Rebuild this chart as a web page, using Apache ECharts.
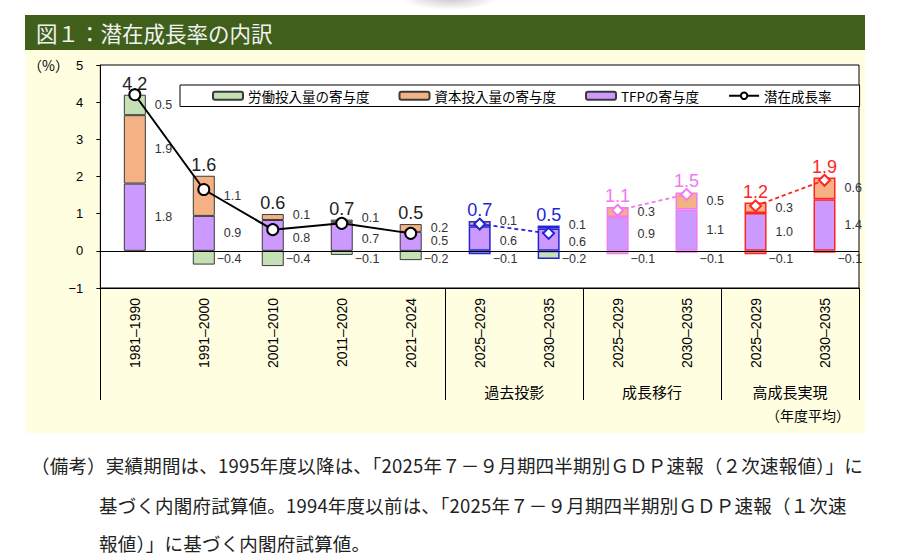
<!DOCTYPE html>
<html>
<head>
<meta charset="utf-8">
<script src="https://cdn.jsdelivr.net/npm/echarts@6/dist/echarts.min.js"></script>
<style>
  body { margin: 0; width: 906px; height: 558px; background: #fff; position: relative; overflow: hidden;
         font-family: 'Noto Sans CJK JP', sans-serif; }
  #shade { position: absolute; left: 400px; top: -14px; width: 100px; height: 24px;
           background: radial-gradient(ellipse at center, rgba(0,0,0,0.22) 0%, rgba(0,0,0,0) 70%); }
  #title { position: absolute; left: 25px; top: 15px; width: 840px; height: 35px; background: #3f5f1b;
           color: #f2f2f2; font-size: 21.5px; line-height: 35px; padding-left: 11px; box-sizing: border-box; }
  #chart { position: absolute; left: 25px; top: 50px; width: 840px; height: 383px; background: #fffee0; }
  .note { position: absolute; font-size: 18.5px; letter-spacing: 0.2px; color: #222; white-space: nowrap; }
</style>
</head>
<body>
<div id="shade"></div>
<div id="title">図１：潜在成長率の内訳</div>
<div id="chart"></div>
<div class="note" style="left:31px; top:452px;">（備考）実績期間は、1995年度以降は、「2025年７－９月期四半期別ＧＤＰ速報（２次速報値）」に</div>
<div class="note" style="left:99px; top:492px;">基づく内閣府試算値。1994年度以前は、「2025年７－９月期四半期別ＧＤＰ速報（１次速</div>
<div class="note" style="left:99px; top:530px;">報値）」に基づく内閣府試算値。</div>
<script>
// 年度区分
const categories = ['1981–1990', '1991–2000', '2001–2010', '2011–2020', '2021–2024',
                    '2025–2029', '2030–2035', '2025–2029', '2030–2035', '2025–2029', '2030–2035'];
// シナリオ (-1 = 実績)
const groupNames = ['過去投影', '成長移行', '高成長実現'];
const groupIndex = [-1, -1, -1, -1, -1, 0, 0, 1, 1, 2, 2];

// 寄与度（棒の高さ）
const tfp     = [1.81, 0.94, 0.83, 0.77, 0.51, 0.66, 0.60, 0.91, 1.11, 1.02, 1.39];
const capital = [1.84, 1.08, 0.16, 0.07, 0.21, 0.14, 0.08, 0.27, 0.46, 0.28, 0.58];
const labour  = [0.55, -0.37, -0.41, -0.11, -0.25, -0.09, -0.22, -0.09, -0.05, -0.09, -0.05];
// 潜在成長率
const growth  = [4.2, 1.65, 0.57, 0.74, 0.47, 0.72, 0.47, 1.09, 1.52, 1.21, 1.90];

// 表示ラベル
const tfpLabels     = ['1.8', '0.9', '0.8', '0.7', '0.5', '0.6', '0.6', '0.9', '1.1', '1.0', '1.4'];
const capitalLabels = ['1.9', '1.1', '0.1', '0.1', '0.2', '0.1', '0.1', '0.3', '0.5', '0.3', '0.6'];
const labourLabels  = ['0.5', '−0.4', '−0.4', '−0.1', '−0.2', '−0.1', '−0.2', '−0.1', '−0.1', '−0.1', '−0.1'];
const growthLabels  = ['4.2', '1.6', '0.6', '0.7', '0.5', '0.7', '0.5', '1.1', '1.5', '1.2', '1.9'];

const groupColors = ['#2424d4', '#f07af0', '#ff2424'];
const NUM_FONT = "'Liberation Sans Narrow', 'Liberation Sans', sans-serif";
const JP_FONT = "'Noto Sans CJK JP', sans-serif";

const GRID = {left: 72, right: 6, top: 15, bottom: 145};
const Y_MIN = -1, Y_MAX = 5;
const ppu = (383 - GRID.top - GRID.bottom) / (Y_MAX - Y_MIN);

const chart = echarts.init(document.getElementById('chart'), null, {renderer: 'svg'});

// 各シナリオの境界と中心
const boundaries = [0];
for (let i = 1; i < groupIndex.length; i++) {
    if (groupIndex[i] !== groupIndex[i - 1]) boundaries.push(i);
}
const groupCenters = {};
groupNames.forEach(function (name, g) {
    const idx = groupIndex.map((v, i) => v === g ? i : -1).filter(i => i >= 0);
    groupCenters[(idx[0] + idx[idx.length - 1] + 1) / 2] = name;
});

// 小さい資本寄与のときはラベル同士を少し離す
function labelNudge(kind, v, i) {
    if (kind === 'lab' && v < 0) return [-7, Math.max(0, 0.22 + v / 2) * ppu];
    if (capital[i] < 0.2 && kind === 'cap') return [0, -2.5];
    if (capital[i] < 0.2 && kind === 'tfp') return [0, 2.5];
    return null;
}

function segData(kind, values) {
    return values.map(function (v, i) {
        const g = groupIndex[i];
        const item = {
            value: v,
            itemStyle: {
                borderColor: g < 0 ? '#3a3a3a' : groupColors[g],
                borderWidth: g < 0 ? 1 : 1.5
            }
        };
        const off = labelNudge(kind, v, i);
        if (off) item.label = {offset: off};
        return item;
    });
}

function segSeries(kind, name, values, labels, color) {
    return {
        name: name,
        type: 'bar',
        stack: 'contrib',
        barWidth: 22,
        barGap: '-100%',
        itemStyle: {color: color, borderColor: '#3a3a3a', borderWidth: 1},
        label: {
            show: true,
            position: 'right',
            distance: 9,
            fontSize: 12.5,
            fontFamily: NUM_FONT,
            color: '#333',
            formatter: p => labels[p.dataIndex]
        },
        data: segData(kind, values)
    };
}

const totals = tfp.map((v, i) => v + capital[i] + Math.max(labour[i], 0));

function lineData(g) {
    return growth.map((v, i) => groupIndex[i] === g ? v : null);
}

const series = [
    segSeries('tfp', 'TFPの寄与度', tfp, tfpLabels, '#cc99ff'),
    segSeries('cap', '資本投入量の寄与度', capital, capitalLabels, '#f4b183'),
    segSeries('lab', '労働投入量の寄与度', labour, labourLabels, '#c5e0b4'),
    {
        name: 'total',
        type: 'bar',
        barWidth: 22,
        barGap: '-100%',
        silent: true,
        itemStyle: {color: 'rgba(0,0,0,0)'},
        label: {
            show: true,
            position: 'top',
            distance: 2,
            fontSize: 18,
            fontFamily: NUM_FONT,
            formatter: p => growthLabels[p.dataIndex]
        },
        data: totals.map(function (v, i) {
            const g = groupIndex[i];
            return {value: v, label: {color: g < 0 ? '#222' : groupColors[g]}};
        })
    },
    {
        name: '潜在成長率',
        type: 'line',
        z: 5,
        symbol: 'circle',
        symbolSize: 11,
        lineStyle: {color: '#000', width: 2},
        itemStyle: {color: '#fff', borderColor: '#000', borderWidth: 2},
        data: lineData(-1)
    }
];
groupNames.forEach(function (name, g) {
    series.push({
        name: name,
        type: 'line',
        z: 5,
        symbol: 'diamond',
        symbolSize: 11,
        lineStyle: {color: groupColors[g], width: 1.8, type: [4, 3]},
        itemStyle: {color: '#fff', borderColor: groupColors[g], borderWidth: 2},
        data: lineData(g)
    });
});
// ゼロ線
series[0].markLine = {
    silent: true,
    symbol: 'none',
    label: {show: false},
    lineStyle: {color: '#000', width: 1, type: 'solid'},
    data: [{yAxis: 0}]
};

chart.setOption({
    animation: false,
    textStyle: {fontFamily: JP_FONT},
    grid: {
        left: GRID.left, right: GRID.right, top: GRID.top, bottom: GRID.bottom,
        show: true, backgroundColor: '#fff', borderColor: '#000', borderWidth: 1
    },
    legend: {
        data: ['労働投入量の寄与度', '資本投入量の寄与度', 'TFPの寄与度', '潜在成長率'],
        left: 155,
        top: 35,
        itemWidth: 30,
        itemHeight: 8,
        itemGap: 29,
        padding: [4, 28, 4, 32],
        borderColor: '#000',
        borderWidth: 1,
        backgroundColor: '#fff',
        textStyle: {fontSize: 13.5, color: '#000', fontFamily: JP_FONT}
    },
    xAxis: [{
        type: 'category',
        data: categories,
        axisLine: {onZero: false, lineStyle: {color: '#000', width: 1}},
        axisTick: {
            show: true,
            length: 112,
            interval: index => boundaries.indexOf(index) >= 0,
            lineStyle: {color: '#000', width: 1}
        },
        axisLabel: {
            rotate: 90,
            margin: 10,
            fontSize: 14,
            color: '#000',
            fontFamily: "'Liberation Sans', sans-serif",
            interval: 0
        }
    }, {
        type: 'value',
        position: 'bottom',
        min: 0,
        max: categories.length,
        interval: 1,
        offset: 88,
        axisLine: {show: false},
        axisTick: {show: false},
        splitLine: {show: false},
        axisLabel: {
            fontSize: 15,
            color: '#000',
            fontFamily: JP_FONT,
            showMinLabel: true,
            showMaxLabel: true,
            formatter: v => groupCenters[v] || ''
        }
    }],
    yAxis: {
        type: 'value',
        min: Y_MIN,
        max: Y_MAX,
        interval: 1,
        splitLine: {show: false},
        axisLine: {show: true, lineStyle: {color: '#000'}},
        axisTick: {show: true, length: 4, lineStyle: {color: '#000'}},
        axisLabel: {
            margin: 17,
            fontSize: 13,
            color: '#000',
            fontFamily: "'Liberation Sans', sans-serif",
            formatter: v => v === Y_MAX ? '{u|（%）}  ' + v : String(v).replace('-', '−'),
            rich: {u: {fontSize: 14, fontFamily: JP_FONT, color: '#000'}}
        }
    },
    graphic: [{
        type: 'text',
        right: 15,
        top: 358,
        style: {text: '（年度平均）', fontSize: 14, fontFamily: JP_FONT, fill: '#000'}
    }],
    series: series
});
</script>
</body>
</html>
